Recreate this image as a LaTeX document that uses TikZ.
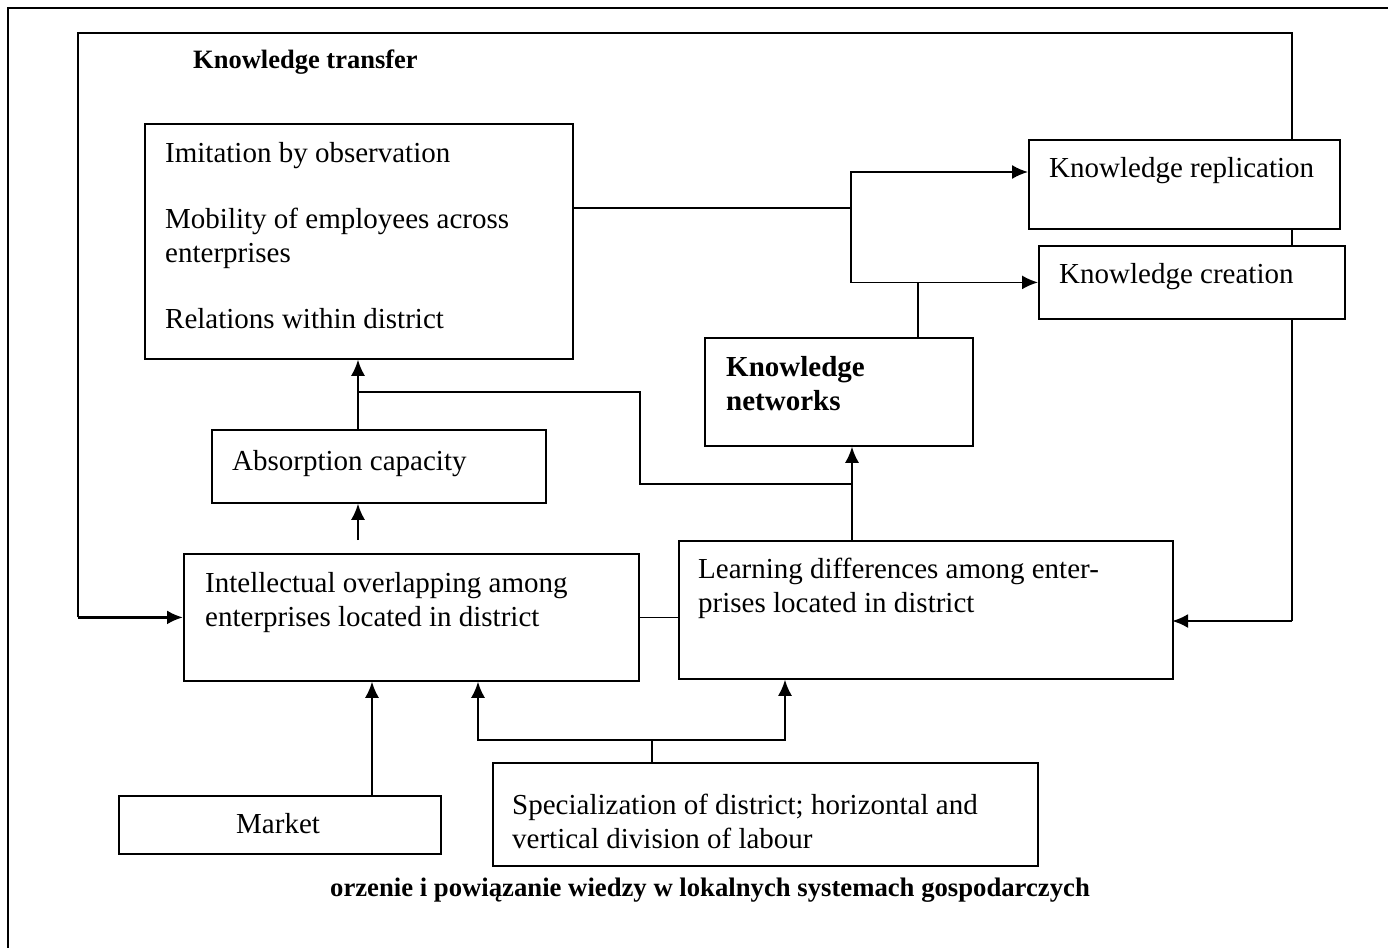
\documentclass[tikz,border=0pt]{standalone}
\usepackage{fontspec}
\setmainfont{Liberation Serif}
\usetikzlibrary{arrows.meta,backgrounds}

\begin{document}
\begin{tikzpicture}[x=1pt,y=-1pt,
		>={Latex[length=16pt,width=14pt]},
		box/.style={draw,fill=white,line width=1.8pt,anchor=north west,inner sep=0pt},
		lbl/.style={anchor=base west,inner sep=0pt,align=left,font=\fontsize{29}{34}\selectfont},
		conn/.style={line width=1.8pt},
		loopconn/.style={line width=2.6pt}]
			\useasboundingbox (0,0) rectangle (1388,948);

			\node[box,minimum width=428pt,minimum height=235pt] (imit) at (144,123) {};
			\node[box,minimum width=334pt,minimum height=73pt] (absorb) at (211,429) {};
			\node[box,minimum width=455pt,minimum height=127pt] (intel) at (183,553) {};
			\node[box,minimum width=494pt,minimum height=138pt] (learn) at (678,540) {};
			\node[box,minimum width=268pt,minimum height=108pt] (netw) at (704,337) {};
			\node[box,minimum width=311pt,minimum height=89pt] (repl) at (1028,139) {};
			\node[box,minimum width=306pt,minimum height=73pt] (creat) at (1038,245) {};
			\node[box,minimum width=322pt,minimum height=58pt] (market) at (118,795) {};
			\node[box,minimum width=545pt,minimum height=103pt] (spec) at (492,762) {};

			% multi-line labels sit on their last baseline
			\node[lbl,font=\bfseries\fontsize{26.5}{30}\selectfont] (transfer) at (193,68) {Knowledge transfer};
			\node[lbl] (imitT) at (165,328) {Imitation by observation\\[32pt]Mobility of employees across\\enterprises\\[32pt]Relations within district};
			\node[lbl] (absorbT) at (232,470) {Absorption capacity};
			\node[lbl] (intelT) at (205,626) {Intellectual overlapping among\\enterprises located in district};
			\node[lbl] (learnT) at (698,612) {Learning differences among enter-\\prises located in district};
			\node[lbl,font=\bfseries\fontsize{29}{34}\selectfont] (netwT) at (726,410) {Knowledge\\networks};
			\node[lbl] (replT) at (1049,177) {Knowledge replication};
			\node[lbl] (creatT) at (1059,283) {Knowledge creation};
			\node[lbl] (marketT) at (236,833) {Market};
			\node[lbl] (specT) at (512,848) {Specialization of district; horizontal and\\vertical division of labour};
			\node[anchor=base,inner sep=0pt,font=\bfseries\fontsize{26.7}{30}\selectfont] (caption) at (710,896) {orzenie i powiązanie wiedzy w lokalnych systemach gospodarczych};

			\coordinate (ktl) at (78,33);
			\coordinate (ktr) at (1292,33);
			\coordinate (learnin) at (1172,621);
			\coordinate (split) at (851,208);
			\coordinate (replin) at (1028,172);
			\coordinate (nk) at (918,0);
			\coordinate (ax) at (358,392);
			\coordinate (ix) at (358,540);
			\coordinate (lx) at (852,484);
			\coordinate (mx) at (372,0);
			\coordinate (sj) at (652,740);
			\coordinate (sl) at (478,740);
			\coordinate (sr) at (785,740);

			% outer frame
			\draw[conn] (1388,8) -- (8,8) -- (8,948);

			% knowledge transfer loop
			\begin{scope}[on background layer]
				\draw[conn] (ktl |- intel.west) -- (ktl) -- (ktr) -- (ktr |- learnin);
				\draw[loopconn,->] (ktl |- intel.west) -- (intel.west);
				\draw[loopconn,->] (ktr |- learnin) -- (learnin);
			\end{scope}

			\draw[conn] (imit.east |- split) -- (split);
			\draw[conn,->] (split) |- (replin);
			\draw[conn,->] (split) |- (creat.west);
			\draw[conn] (nk |- creat.west) -- (nk |- netw.north);

			\draw[conn,->] (ax |- absorb.north) -- (ax |- imit.south);
			\draw[conn,->] (ix) -- (ax |- absorb.south);
			\draw[conn,->] (lx |- learn.north) -- (lx |- netw.south);
			\draw[conn] (lx) -| (intel.east |- ax) -- (ax);
			\draw[conn] (intel.east) -- (intel.east -| learn.west);

			\draw[conn,->] (mx |- market.north) -- (mx |- intel.south);
			\draw[conn] (sj |- spec.north) -- (sj);
			\draw[conn,->] (sj) -- (sl) -- (sl |- intel.south);
			\draw[conn,->] (sj) -- (sr) -- (sr |- learn.south);
		\end{tikzpicture}
\end{document}
